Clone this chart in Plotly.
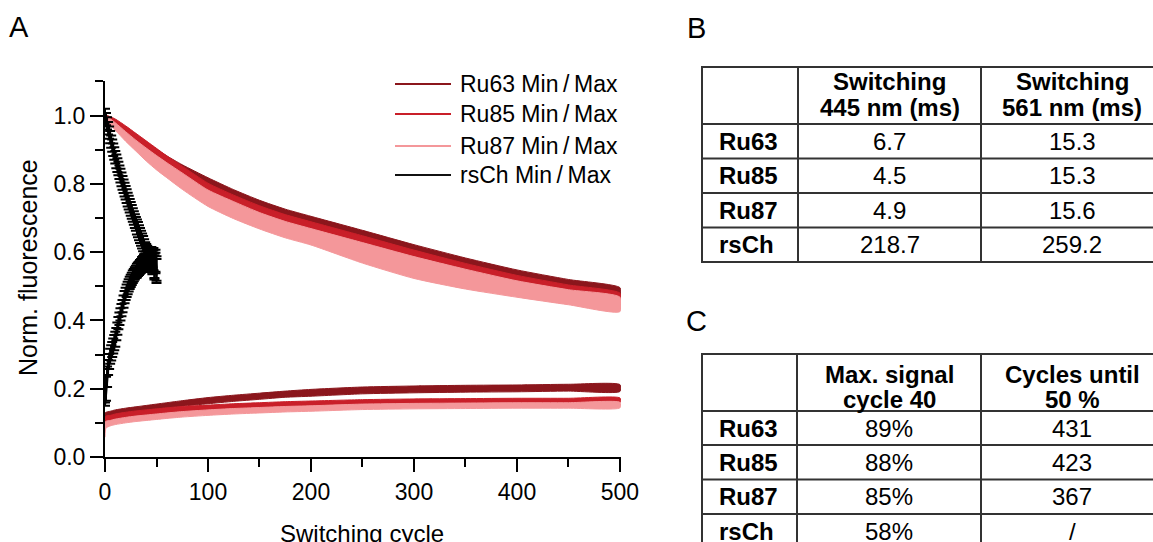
import plotly.graph_objects as go

W, H = 1153, 542
FONT = "Liberation Sans, Arial, sans-serif"

# ---------------- Panel A data: normalized fluorescence vs switching cycle ----------------
cycles = [0, 1, 5, 10, 20, 30, 40, 50, 60, 75, 100, 125, 150, 175, 200, 250, 300, 350, 400, 450, 500]

# "Max" (on-state) signal, mean and spread
ru63_max = [1.000, 0.995, 0.986, 0.976, 0.955, 0.933, 0.912, 0.892, 0.872, 0.846, 0.806, 0.771,
            0.740, 0.714, 0.693, 0.652, 0.610, 0.571, 0.536, 0.508, 0.484]
ru63_max_err = [0.004, 0.006, 0.010, 0.010, 0.010, 0.010, 0.010, 0.010, 0.010, 0.010, 0.012, 0.012,
                0.012, 0.012, 0.012, 0.012, 0.012, 0.012, 0.012, 0.012, 0.012]
ru85_max = [0.992, 0.990, 0.984, 0.977, 0.957, 0.935, 0.913, 0.891, 0.869, 0.839, 0.789, 0.754,
            0.723, 0.697, 0.676, 0.635, 0.593, 0.554, 0.519, 0.491, 0.467]
ru85_max_err = [0.008, 0.010, 0.013, 0.013, 0.013, 0.013, 0.013, 0.013, 0.013, 0.013, 0.013, 0.013,
                0.013, 0.013, 0.013, 0.013, 0.013, 0.013, 0.013, 0.013, 0.013]
ru87_max = [0.992, 0.990, 0.982, 0.968, 0.939, 0.912, 0.886, 0.862, 0.840, 0.808, 0.758, 0.723,
            0.692, 0.666, 0.645, 0.598, 0.555, 0.521, 0.492, 0.468, 0.447]
ru87_max_err = [0.008, 0.008, 0.009, 0.011, 0.014, 0.016, 0.019, 0.021, 0.022, 0.024, 0.024, 0.025,
                0.024, 0.024, 0.024, 0.030, 0.032, 0.029, 0.024, 0.022, 0.021]

# "Min" (off-state) signal, mean and spread
ru63_min = [0.121, 0.123, 0.126, 0.130, 0.135, 0.139, 0.143, 0.147, 0.151, 0.157, 0.165, 0.172,
            0.178, 0.184, 0.188, 0.195, 0.198, 0.200, 0.201, 0.203, 0.202]
ru63_min_err = [0.008, 0.008, 0.008, 0.008, 0.008, 0.008, 0.008, 0.008, 0.008, 0.008, 0.009, 0.009,
                0.009, 0.009, 0.010, 0.010, 0.010, 0.010, 0.010, 0.010, 0.010]
ru85_min = [0.095, 0.110, 0.114, 0.118, 0.123, 0.127, 0.130, 0.133, 0.136, 0.140, 0.145, 0.149,
            0.152, 0.155, 0.157, 0.161, 0.163, 0.164, 0.165, 0.165, 0.166]
ru85_min_err = [0.018, 0.010, 0.008, 0.008, 0.008, 0.008, 0.008, 0.008, 0.008, 0.008, 0.007, 0.007,
                0.007, 0.007, 0.007, 0.007, 0.007, 0.007, 0.007, 0.007, 0.007]
ru87_min = [0.080, 0.095, 0.099, 0.103, 0.108, 0.112, 0.115, 0.118, 0.121, 0.125, 0.130, 0.134,
            0.137, 0.140, 0.142, 0.147, 0.149, 0.150, 0.151, 0.151, 0.152]
ru87_min_err = [0.022, 0.010, 0.008, 0.008, 0.008, 0.008, 0.008, 0.008, 0.008, 0.008, 0.008, 0.008,
                0.008, 0.008, 0.008, 0.008, 0.008, 0.008, 0.008, 0.008, 0.008]

# rsCherry: every cycle, 0..50
rs_cycles = list(range(51))
rsch_max = [1.000, 0.990, 0.977, 0.963, 0.950, 0.937, 0.924, 0.912, 0.900, 0.889,
            0.878, 0.866, 0.855, 0.845, 0.834, 0.824, 0.813, 0.803, 0.793, 0.783,
            0.774, 0.764, 0.754, 0.745, 0.736, 0.727, 0.718, 0.709, 0.700, 0.691,
            0.683, 0.674, 0.666, 0.657, 0.649, 0.641, 0.633, 0.625, 0.616, 0.607,
            0.600, 0.594, 0.588, 0.583, 0.578, 0.585, 0.572, 0.580, 0.560, 0.575, 0.552]
rsch_max_err = [0.020, 0.018, 0.018, 0.018, 0.018, 0.018, 0.018, 0.018, 0.018, 0.018,
                0.018, 0.020, 0.020, 0.020, 0.020, 0.020, 0.020, 0.020, 0.020, 0.020,
                0.020, 0.020, 0.020, 0.020, 0.020, 0.020, 0.020, 0.020, 0.020, 0.020,
                0.020, 0.022, 0.022, 0.022, 0.022, 0.022, 0.022, 0.022, 0.022, 0.022,
                0.024, 0.025, 0.026, 0.028, 0.028, 0.030, 0.032, 0.032, 0.036, 0.032, 0.036]
rsch_min = [0.155, 0.200, 0.235, 0.262, 0.280, 0.295, 0.305, 0.315, 0.325, 0.335,
            0.345, 0.360, 0.376, 0.392, 0.405, 0.418, 0.430, 0.442, 0.455, 0.468,
            0.478, 0.487, 0.495, 0.503, 0.510, 0.516, 0.522, 0.528, 0.533, 0.538,
            0.542, 0.546, 0.550, 0.553, 0.557, 0.560, 0.564, 0.567, 0.570, 0.574,
            0.578, 0.580, 0.575, 0.583, 0.570, 0.580, 0.565, 0.575, 0.555, 0.568, 0.545]
rsch_min_err = [0.005, 0.035, 0.030, 0.022, 0.022, 0.022, 0.022, 0.022, 0.022, 0.022,
                0.022, 0.018, 0.018, 0.018, 0.018, 0.018, 0.018, 0.018, 0.018, 0.018,
                0.018, 0.018, 0.018, 0.018, 0.018, 0.018, 0.018, 0.018, 0.018, 0.018,
                0.018, 0.020, 0.020, 0.020, 0.020, 0.020, 0.022, 0.022, 0.022, 0.022,
                0.024, 0.024, 0.026, 0.026, 0.028, 0.028, 0.030, 0.030, 0.035, 0.030, 0.035]

series_names = ["Ru63", "Ru85", "Ru87", "rsCh"]
series_colors = ["#8b161c", "#c91f29", "#f4979a", "#111111"]

# ---------------- Panel B / C tables ----------------
variants = ["Ru63", "Ru85", "Ru87", "rsCh"]
switch_445_ms = [6.7, 4.5, 4.9, 218.7]
switch_561_ms = [15.3, 15.3, 15.6, 259.2]
max_signal_cycle40 = [89, 88, 85, 58]
cycles_until_50 = [431, 423, 367, None]
header_b = [["Switching", "445 nm (ms)"], ["Switching", "561 nm (ms)"]]
header_c = [["Max. signal", "cycle 40"], ["Cycles until", "50 %"]]


def px(x):
    return x / W


def py(y):
    return 1 - y / H


fig = go.Figure()


def add_band(mean, err, color):
    upper = [m + e for m, e in zip(mean, err)]
    lower = [m - e for m, e in zip(mean, err)]
    fig.add_trace(go.Scatter(
        x=cycles + cycles[::-1], y=upper + lower[::-1],
        mode="lines", fill="toself", fillcolor=color,
        line=dict(color=color, width=1, shape="spline", smoothing=0.6),
        hoverinfo="skip", showlegend=False))


add_band(ru63_max, ru63_max_err, series_colors[0])
add_band(ru63_min, ru63_min_err, series_colors[0])
add_band(ru85_max, ru85_max_err, series_colors[1])
add_band(ru85_min, ru85_min_err, series_colors[1])
add_band(ru87_max, ru87_max_err, series_colors[2])
add_band(ru87_min, ru87_min_err, series_colors[2])

for yv, ev in ((rsch_max, rsch_max_err), (rsch_min, rsch_min_err)):
    fig.add_trace(go.Scatter(
        x=rs_cycles, y=yv, mode="lines",
        line=dict(color="black", width=2.5),
        error_y=dict(type="data", array=ev, visible=True, color="black",
                     thickness=2, width=5),
        hoverinfo="skip", showlegend=False))

shapes = []
annotations = []

# legend (line samples + labels)
legend_y = [84, 114, 146, 175]
for name, color, ly in zip(series_names, series_colors, legend_y):
    shapes.append(dict(type="line", xref="paper", yref="paper",
                       x0=px(395), x1=px(451), y0=py(ly), y1=py(ly),
                       line=dict(color=color, width=2)))
    annotations.append(dict(xref="paper", yref="paper", x=px(458), y=py(ly),
                            xanchor="left", yanchor="middle", showarrow=False,
                            text=f"{name} Min\u2009/\u2009Max",
                            font=dict(family=FONT, size=23, color="black")))

# axis titles
annotations.append(dict(xref="paper", yref="paper", x=px(362), y=py(533),
                        xanchor="center", yanchor="middle", showarrow=False,
                        text="Switching cycle", font=dict(family=FONT, size=24, color="black")))
annotations.append(dict(xref="paper", yref="paper", x=px(28), y=py(268),
                        xanchor="center", yanchor="middle", showarrow=False, textangle=-90,
                        text="Norm. fluorescence", font=dict(family=FONT, size=25, color="black")))

# panel letters
for letter, lx, ly in (("A", 19, 27), ("B", 696, 28), ("C", 696, 321)):
    annotations.append(dict(xref="paper", yref="paper", x=px(lx), y=py(ly),
                            xanchor="center", yanchor="middle", showarrow=False,
                            text=letter, font=dict(family=FONT, size=29, color="black")))


def draw_table(col_x, row_y, header, header_line_y, rows):
    lc = "#333333"
    for y in row_y:
        shapes.append(dict(type="line", xref="paper", yref="paper",
                           x0=px(col_x[0] - 1), x1=px(col_x[-1]), y0=py(y), y1=py(y),
                           line=dict(color=lc, width=2)))
    for x in col_x:
        shapes.append(dict(type="line", xref="paper", yref="paper",
                           x0=px(x), x1=px(x), y0=py(row_y[0]), y1=py(row_y[-1]),
                           line=dict(color=lc, width=2)))
    centers = [(col_x[i] + col_x[i + 1]) / 2 for i in range(len(col_x) - 1)]
    for ci, lines in enumerate(header):
        for text, ty in zip(lines, header_line_y):
            annotations.append(dict(xref="paper", yref="paper", x=px(centers[ci + 1]), y=py(ty),
                                    xanchor="center", yanchor="middle", showarrow=False,
                                    text=f"<b>{text}</b>",
                                    font=dict(family=FONT, size=24, color="black")))
    for ri, row in enumerate(rows):
        cy = (row_y[ri + 1] + row_y[ri + 2]) / 2
        annotations.append(dict(xref="paper", yref="paper", x=px(col_x[0] + 15), y=py(cy),
                                xanchor="left", yanchor="middle", showarrow=False,
                                text=f"<b>{row[0]}</b>",
                                font=dict(family=FONT, size=24, color="black")))
        for ci, val in enumerate(row[1:]):
            annotations.append(dict(xref="paper", yref="paper", x=px(centers[ci + 1]), y=py(cy),
                                    xanchor="center", yanchor="middle", showarrow=False,
                                    text=val, font=dict(family=FONT, size=24, color="black")))


rows_b = [[v, f"{a:.1f}", f"{b:.1f}"] for v, a, b in zip(variants, switch_445_ms, switch_561_ms)]
rows_c = [[v, f"{m}%", ("/" if c is None else f"{c}")]
          for v, m, c in zip(variants, max_signal_cycle40, cycles_until_50)]

draw_table([702, 798, 981, 1163], [67, 124, 158.5, 193, 227.5, 262], header_b, [82, 108], rows_b)
draw_table([702, 797, 981, 1163], [354, 411, 445, 479.5, 514, 548.5], header_c, [374, 399], rows_c)

tickfont = dict(family=FONT, size=23, color="black")
fig.update_layout(
    width=W, height=H,
    margin=dict(l=0, r=0, t=0, b=0, autoexpand=False),
    paper_bgcolor="white", plot_bgcolor="white",
    showlegend=False,
    shapes=shapes, annotations=annotations,
    xaxis=dict(domain=[px(105), px(621)], range=[0, 501], automargin=False,
               showline=True, linecolor="black", linewidth=2,
               ticks="outside", ticklen=13, tickwidth=2, tickcolor="black",
               tick0=0, dtick=100, showgrid=False, zeroline=False, tickfont=tickfont,
               minor=dict(dtick=50, ticks="outside", ticklen=8, tickwidth=2, tickcolor="black"),
               fixedrange=True),
    yaxis=dict(domain=[py(457), py(81.3)], range=[0, 1.1005], automargin=False,
               showline=True, linecolor="black", linewidth=2,
               ticks="outside", ticklen=13, tickwidth=2, tickcolor="black",
               tick0=0, dtick=0.2, tickformat=".1f", showgrid=False, zeroline=False,
               tickfont=tickfont,
               minor=dict(dtick=0.1, ticks="outside", ticklen=8, tickwidth=2, tickcolor="black"),
               fixedrange=True),
)

fig.write_html("out.html")
